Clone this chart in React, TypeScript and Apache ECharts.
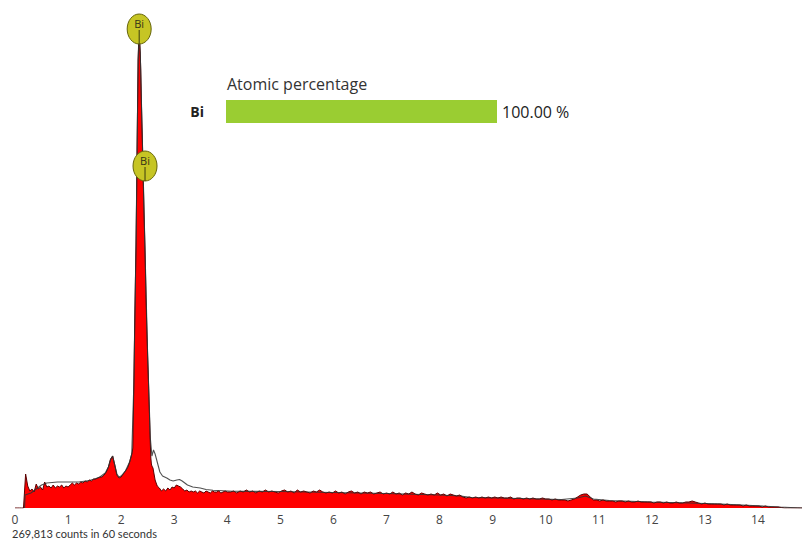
import React, { useEffect, useRef } from "react";
import * as echarts from "echarts";

// ---- Spectrum data (counts in arbitrary units) ----
// Segment A: 0.00 – 2.16 keV, step 0.04 keV
const lowStartKeV = 0.0;
const lowStepKeV = 0.04;
const lowEnergyCounts = [
  0, 0, 0, 0, 0, 34, 22, 17, 19, 16,
  24, 19, 21, 18, 26, 21, 22, 20, 23, 20,
  22, 21, 23, 20, 22, 21, 23, 25, 23, 25,
  24, 26, 25, 27, 26, 28, 27, 29, 29, 30,
  31, 31, 33, 36, 41, 49, 52, 43, 33, 30,
  31, 34, 37, 40, 46,
];
// Segment B: 2.17 – 2.60 keV, step 0.01 keV (main Bi peak)
const peakStartKeV = 2.17;
const peakStepKeV = 0.01;
const peakCounts = [
  48, 50, 52, 54, 56, 60, 90, 125, 165, 200,
  232, 262, 305, 360, 405, 448, 466, 475, 465, 455,
  438, 410, 388, 368, 344, 320, 298, 278, 258, 232,
  208, 188, 170, 152, 136, 118, 100, 82, 64, 50,
  44, 42, 41, 40,
];
// Segment C: 2.64 – 4.00 keV, step 0.04 keV
const postStartKeV = 2.64;
const postStepKeV = 0.04;
const postPeakCounts = [
  28, 22, 20, 17, 19, 17, 20, 18, 21, 20,
  23, 22, 21, 19, 17, 18, 16, 17, 16, 17,
  15, 17, 16, 15, 17, 16, 15, 17, 16, 16,
  17, 15, 16, 17, 16,
];
// Segment D: 4.06 – 14.86 keV, step 0.06 keV
const highStartKeV = 4.06;
const highStepKeV = 0.06;
const highEnergyCounts = [
  16, 17, 15, 17, 16, 18, 16, 17, 15, 17,
  16, 18, 16, 17, 16, 15, 17, 18, 16, 17,
  15, 18, 16, 17, 16, 15, 17, 16, 18, 16,
  15, 16, 15, 17, 15, 16, 14, 16, 17, 15,
  16, 14, 16, 15, 16, 14, 15, 16, 14, 15,
  14, 16, 14, 15, 13, 15, 14, 16, 14, 13,
  15, 14, 13, 14, 13, 15, 13, 14, 12, 14,
  13, 12, 13, 11, 10, 11, 10, 11, 10, 11,
  10, 11, 10, 11, 10, 11, 10, 10, 11, 9,
  10, 10, 9, 10, 9, 10, 9, 9, 10, 9,
  9, 8, 9, 8, 8, 8, 7, 8, 9, 11,
  13, 14, 14, 11, 8, 8, 7, 8, 7, 7,
  7, 6, 7, 7, 6, 7, 6, 6, 7, 6,
  6, 6, 6, 5, 6, 6, 5, 6, 5, 5,
  6, 5, 5, 6, 6, 7, 6, 5, 4, 5,
  4, 4, 4, 4, 4, 3, 4, 3, 3, 3,
  3, 2, 3, 2, 2, 2, 2, 1, 2, 1,
  1, 1, 1, 0.5, 0, 0, 0, 0, 0, 0,
  0,
];

// Fitted / reference spectrum (grey line)
const fitEnergies = [
  0.18, 0.19, 0.3, 0.4, 0.5, 0.6, 0.8, 1.0, 1.2, 1.4,
  1.5, 1.6, 1.7, 1.76, 1.8, 1.84, 1.88, 1.92, 1.96, 2.0,
  2.08, 2.16, 2.2, 2.24, 2.28, 2.32, 2.34, 2.36, 2.4, 2.45,
  2.5, 2.55, 2.58, 2.61, 2.64, 2.67, 2.7, 2.73, 2.78, 2.86,
  2.92, 2.98, 3.05, 3.1, 3.15, 3.2, 3.25, 3.35, 3.49, 3.6,
  3.73, 4.1, 5, 6, 7, 8, 8.4, 8.6, 9.5, 10.3,
  10.6, 10.75, 10.9, 11.2, 12, 12.7, 13.3, 13.9, 14.4, 14.83,
];
const fitCounts = [
  0, 13, 15, 19, 23, 25, 26, 26, 26, 27.5,
  29, 31, 35, 41, 48, 52, 43, 34, 31, 32,
  37, 46, 54, 125, 262, 448, 475, 455, 368, 258,
  152, 70, 52, 58, 54, 48, 42, 36, 32, 30,
  28, 27, 28, 28.5, 27, 25, 23, 21, 20, 18.5,
  17.7, 16.7, 16.5, 15.5, 14.5, 13, 12, 10.5, 9.5, 8.5,
  10, 12, 9, 7.5, 6, 5, 4, 2.5, 1, 0,
];

// Peak identification markers
const markerEnergies = [2.34, 2.45];
const markerCounts = [479, 342];
const markerLabels = ["Bi", "Bi"];

// Composition
const compositionElements = ["Bi"];
const atomicPercentages = [100.0];

// Axis
const energyTicksMax = 14.83;
const countsAxisMax = 500;
const acquisitionText = "269,813 counts in 60 seconds";

const FONT = "'Open Sans', 'Noto Sans', sans-serif";

function segment(start: number, step: number, values: number[]) {
  return values.map((v, i) => [+(start + i * step).toFixed(3), v]);
}

export default function App() {
  const ref = useRef<HTMLDivElement>(null);

  useEffect(() => {
    if (!ref.current) return;
    const chart = echarts.init(ref.current, null, { renderer: "svg" });

    const spectrum = [
      ...segment(lowStartKeV, lowStepKeV, lowEnergyCounts),
      ...segment(peakStartKeV, peakStepKeV, peakCounts),
      ...segment(postStartKeV, postStepKeV, postPeakCounts),
      ...segment(highStartKeV, highStepKeV, highEnergyCounts),
    ];
    const fit = fitEnergies.map((e, i) => [e, fitCounts[i]]);
    const markers = markerEnergies.map((e, i) => [e, markerCounts[i], markerLabels[i]]);

    const option: any = {
      animation: false,
      backgroundColor: "#ffffff",
      textStyle: { fontFamily: FONT },
      grid: [
        { left: 15, right: 0, top: 8, bottom: 32, containLabel: false },
        { left: 226, top: 100, width: 271, height: 23, containLabel: false },
      ],
      xAxis: [
        {
          type: "value",
          gridIndex: 0,
          min: 0,
          max: energyTicksMax,
          interval: 1,
          axisLine: { show: false },
          axisTick: { show: false },
          splitLine: { show: false },
          axisLabel: {
            color: "#444",
            fontSize: 12,
            lineHeight: 12,
            margin: 5,
            fontFamily: FONT,
            showMaxLabel: false,
          },
        },
        {
          type: "value",
          gridIndex: 1,
          min: 0,
          max: 100,
          show: false,
        },
      ],
      yAxis: [
        {
          type: "value",
          gridIndex: 0,
          min: 0,
          max: countsAxisMax,
          show: false,
        },
        {
          type: "category",
          gridIndex: 1,
          data: compositionElements,
          axisLine: { show: false },
          axisTick: { show: false },
          axisLabel: {
            color: "#222",
            fontWeight: "bold",
            fontSize: 14,
            margin: 22,
            fontFamily: FONT,
          },
        },
      ],
      series: [
        {
          type: "line",
          xAxisIndex: 0,
          yAxisIndex: 0,
          data: spectrum,
          showSymbol: false,
          symbol: "none",
          lineStyle: { color: "#5a0000", width: 1 },
          areaStyle: { color: "#ff0000", opacity: 1 },
          z: 2,
        },
        {
          type: "line",
          xAxisIndex: 0,
          yAxisIndex: 0,
          data: fit,
          showSymbol: false,
          symbol: "none",
          lineStyle: { color: "#333333", width: 1.1, opacity: 0.85 },
          z: 3,
        },
        {
          type: "custom",
          xAxisIndex: 0,
          yAxisIndex: 0,
          data: markers,
          clip: false,
          z: 5,
          renderItem: (params: any, api: any) => {
            const pt = api.coord([api.value(0), api.value(1)]);
            const cx = pt[0];
            const cy = pt[1];
            const label = markers[params.dataIndex][2] as string;
            return {
              type: "group",
              children: [
                {
                  type: "ellipse",
                  shape: { cx, cy, rx: 12, ry: 15 },
                  style: { fill: "#c6c524", stroke: "#66650a", lineWidth: 1 },
                },
                {
                  type: "line",
                  shape: { x1: cx, y1: cy + 1, x2: cx, y2: cy + 15 },
                  style: { stroke: "#3a3a10", lineWidth: 1 },
                },
                {
                  type: "text",
                  style: {
                    text: label,
                    x: cx,
                    y: cy - 6,
                    align: "center",
                    verticalAlign: "middle",
                    fontSize: 11,
                    fill: "#333318",
                    fontFamily: FONT,
                  },
                },
              ],
            };
          },
        },
        {
          type: "bar",
          xAxisIndex: 1,
          yAxisIndex: 1,
          data: atomicPercentages,
          barWidth: 23,
          itemStyle: { color: "#9acd32" },
          label: {
            show: true,
            position: "right",
            distance: 5,
            color: "#222",
            fontSize: 16,
            fontFamily: FONT,
            formatter: (p: any) => `${Number(p.value).toFixed(2)} %`,
          },
        },
      ],
      graphic: [
        {
          type: "text",
          left: 227,
          top: 76,
          style: {
            text: "Atomic percentage",
            fontSize: 16,
            fill: "#333",
            fontFamily: FONT,
          },
        },
        {
          type: "text",
          left: 12,
          top: 528,
          style: {
            text: acquisitionText,
            fontSize: 11,
            lineHeight: 11,
            fill: "#333",
            fontFamily: "Lato, 'Open Sans', sans-serif",
          },
        },
      ],
    };

    chart.setOption(option);
    return () => chart.dispose();
  }, []);

  return (
    <div
      ref={ref}
      style={{ position: "absolute", left: 0, top: 0, width: 802, height: 540, background: "#fff" }}
    />
  );
}
